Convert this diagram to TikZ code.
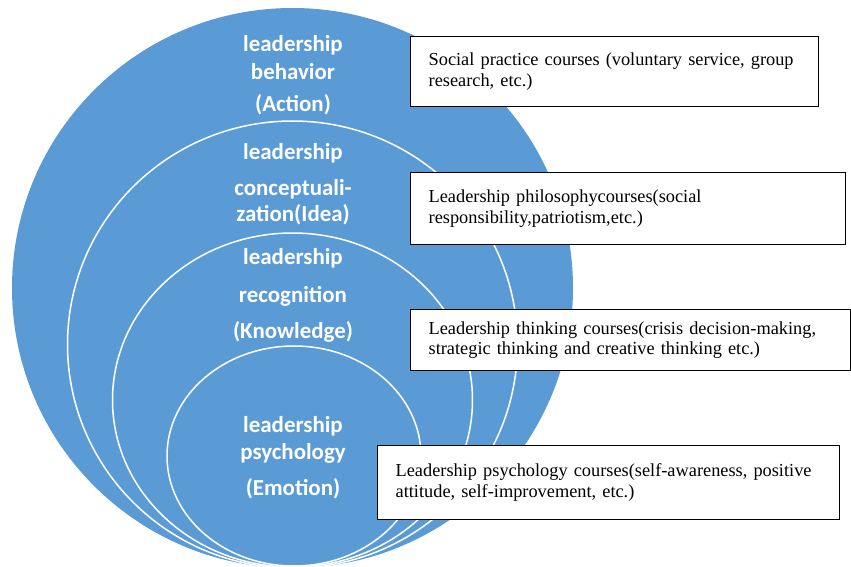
\documentclass[tikz,border=0pt]{standalone}
\usepackage{fontspec}
\setmainfont{Liberation Serif}
\newfontfamily\lvlfont{Carlito}
\usepackage{xcolor}
\definecolor{ringblue}{RGB}{91,155,213}

\begin{document}
\begin{tikzpicture}[x=1bp,y=-1bp,
  ring/.style={fill=ringblue, draw=white, line width=1.5bp},
  lvl/.style={anchor=base, inner sep=0pt, text=white, font=\lvlfont\bfseries\fontsize{23}{27}\selectfont},
  course/.style={draw=black, fill=white, line width=1.3bp, anchor=north west, align=left, inner xsep=18bp, inner ysep=0pt, font=\fontsize{18.4}{20.5}\selectfont}]

\useasboundingbox (0,0) rectangle (851,567);

% nested rings, all touching at the bottom
\fill[ringblue] (292.5,288) ellipse [x radius=280.5, y radius=280];

\draw[ring] (292.5,344.5) ellipse [x radius=225, y radius=223.5];

\draw[ring] (292.5,400) ellipse [x radius=180, y radius=167];

\draw[ring] (294,456) ellipse [x radius=127, y radius=110];

% ring labels
\node[lvl] (act1) at (293,52) {leadership};
\node[lvl] (act2) at (293,80) {behavior};
\node[lvl] (act3) at (293,112) {(Action)};

\node[lvl] (idea1) at (293,160) {leadership};
\node[lvl] (idea2) at (293,196) {conceptuali-};
\node[lvl] (idea3) at (293,222) {zation(Idea)};

\node[lvl] (know1) at (293,264) {leadership};
\node[lvl] (know2) at (293,302) {recognition};
\node[lvl] (know3) at (293,338) {(Knowledge)};

\node[lvl] (emo1) at (293,432) {leadership};
\node[lvl] (emo2) at (293,459) {psychology};
\node[lvl] (emo3) at (293,495) {(Emotion)};

% course boxes
\node[course, text width=372bp, minimum height=70bp] (social) at (410,36)
  {Social practice courses (voluntary service, group\\research, etc.)};

\node[course, text width=399bp, minimum height=72bp] (philo) at (410,172)
  {Leadership philosophycourses(social\\responsibility,patriotism,etc.)};

\node[course, text width=404bp, minimum height=61bp] (think) at (410,309)
  {Leadership thinking courses(crisis decision-making,\\strategic thinking and creative thinking etc.)};

\node[course, text width=426bp, minimum height=74bp] (psych) at (377,445)
  {Leadership psychology courses(self-awareness, positive\\attitude, self-improvement, etc.)};

\end{tikzpicture}
\end{document}
